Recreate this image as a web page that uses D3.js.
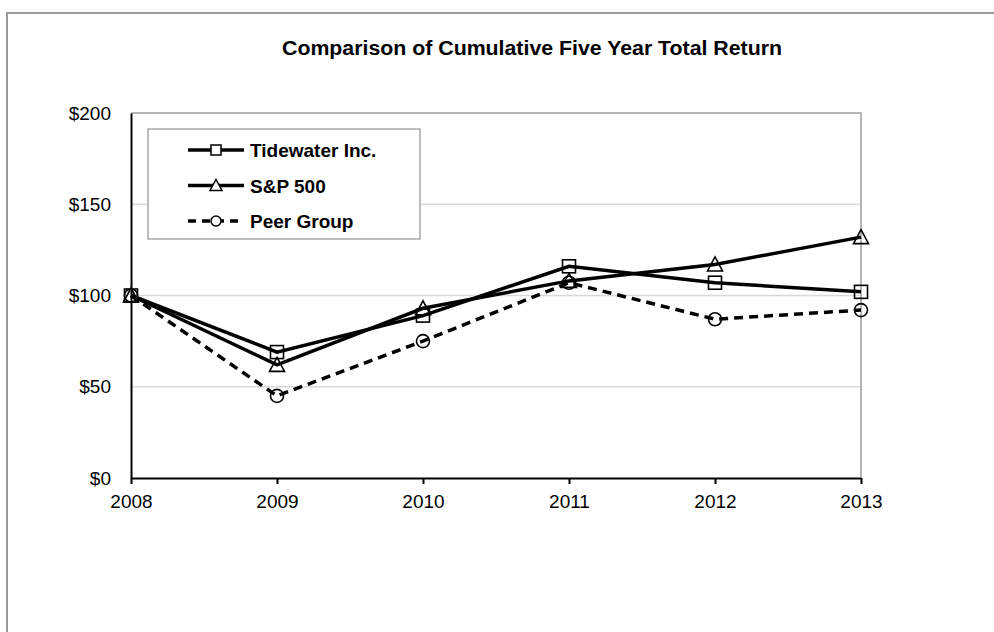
<!DOCTYPE html>
<html lang="en">
<head>
    <meta charset="UTF-8">
    <title>Comparison of Cumulative Five Year Total Return</title>
    <script src="https://d3js.org/d3.v7.min.js"></script>
    <style>
        body { margin: 0; background: #fff; }
        svg { display: block; font-family: "Liberation Sans", Arial, sans-serif; }
        .grid line { stroke: #d9d9d9; stroke-width: 1.5px; }
    </style>
</head>
<body>
<div id="chart"></div>
<script>
    // Chart data
    const years = [2008, 2009, 2010, 2011, 2012, 2013];
    const tidewater = [100, 69, 89, 116, 107, 102];
    const sp500 = [100, 62, 93, 108, 117, 132];
    const peerGroup = [100, 45, 75, 107, 87, 92];
    const yTicks = [0, 50, 100, 150, 200];

    const series = [
        { name: "Tidewater Inc.", values: tidewater, marker: "square", dash: null },
        { name: "S&P 500", values: sp500, marker: "triangle", dash: null },
        { name: "Peer Group", values: peerGroup, marker: "circle", dash: "9,6" }
    ];

    const width = 994, height = 632;
    const plot = { left: 131, right: 861, top: 113, bottom: 478 };

    const svg = d3.select("#chart").append("svg")
        .attr("width", width)
        .attr("height", height);

    // outer frame (top and left edges visible)
    svg.append("path")
        .attr("d", `M7,${height} V13 H${width}`)
        .attr("fill", "none")
        .attr("stroke", "#9a9a9a")
        .attr("stroke-width", 2);

    const x = d3.scalePoint().domain(years).range([plot.left, plot.right]);
    const y = d3.scaleLinear().domain([0, 200]).range([plot.bottom, plot.top]);

    // title
    svg.append("text")
        .attr("x", 532)
        .attr("y", 55)
        .attr("text-anchor", "middle")
        .attr("font-size", "20px")
        .attr("font-weight", "bold")
        .attr("textLength", 500)
        .attr("lengthAdjust", "spacingAndGlyphs")
        .text("Comparison of Cumulative Five Year Total Return");

    // gridlines
    svg.append("g").attr("class", "grid")
        .selectAll("line")
        .data(yTicks.filter(t => t > 0 && t < 200))
        .enter().append("line")
        .attr("x1", plot.left).attr("x2", plot.right)
        .attr("y1", d => y(d)).attr("y2", d => y(d));

    // plot area top and right border
    svg.append("path")
        .attr("d", `M${plot.left},${plot.top} H${plot.right} V${plot.bottom}`)
        .attr("fill", "none")
        .attr("stroke", "#b5b5b5")
        .attr("stroke-width", 2);

    // y axis
    const yAxis = svg.append("g")
        .attr("transform", `translate(${plot.left},0)`)
        .call(d3.axisLeft(y).tickValues(yTicks).tickFormat(d => "$" + d).tickSize(0).tickPadding(20));
    yAxis.select(".domain").attr("stroke", "#000").attr("stroke-width", 2);
    yAxis.selectAll("text")
        .attr("font-size", "19px")
        .attr("font-family", "Liberation Sans, Arial, sans-serif")
        .attr("fill", "#000");

    // x axis
    const xAxis = svg.append("g")
        .attr("transform", `translate(0,${plot.bottom})`)
        .call(d3.axisBottom(x).tickSize(6).tickPadding(11).tickFormat(d => d));
    xAxis.select(".domain").attr("stroke", "#000").attr("stroke-width", 2).attr("d", `M${plot.left},0.5H${plot.right}`);
    xAxis.selectAll(".tick line").attr("stroke", "#000").attr("stroke-width", 2);
    xAxis.selectAll("text")
        .attr("font-size", "19px")
        .attr("font-family", "Liberation Sans, Arial, sans-serif")
        .attr("fill", "#000");

    function drawMarker(g, type, cx, cy, s) {
        if (type === "square") {
            g.append("rect").attr("x", cx - s).attr("y", cy - s)
                .attr("width", 2 * s).attr("height", 2 * s);
        } else if (type === "triangle") {
            g.append("path").attr("d", `M${cx},${cy - s - 1}L${cx + s + 1},${cy + s}L${cx - s - 1},${cy + s}Z`);
        } else {
            g.append("circle").attr("cx", cx).attr("cy", cy).attr("r", s);
        }
    }

    const line = d3.line().x((d, i) => x(years[i])).y(d => y(d));

    series.forEach(s => {
        svg.append("path")
            .datum(s.values)
            .attr("d", line)
            .attr("fill", "none")
            .attr("stroke", "#000")
            .attr("stroke-width", 3.5)
            .attr("stroke-dasharray", s.dash);
        const mg = svg.append("g").attr("fill", "#fff").attr("fill-opacity", 0)
            .attr("stroke", "#000").attr("stroke-width", 1.6);
        s.values.forEach((v, i) => drawMarker(mg, s.marker, x(years[i]), y(v), 6.5));
    });

    // legend
    const legend = svg.append("g");
    legend.append("rect")
        .attr("x", 148).attr("y", 129)
        .attr("width", 272).attr("height", 110)
        .attr("fill", "#fff")
        .attr("stroke", "#a6a6a6")
        .attr("stroke-width", 1.5);

    series.forEach((s, i) => {
        const ly = 150 + i * 35.5;
        legend.append("line")
            .attr("x1", 188).attr("x2", 244)
            .attr("y1", ly).attr("y2", ly)
            .attr("stroke", "#000")
            .attr("stroke-width", 3.5)
            .attr("stroke-dasharray", s.dash ? "8,6" : null);
        const mg = legend.append("g").attr("fill", "#fff").attr("stroke", "#000").attr("stroke-width", 1.5);
        drawMarker(mg, s.marker, 216, ly, 5);
        legend.append("text")
            .attr("x", 250).attr("y", ly + 7)
            .attr("font-size", "19px")
            .attr("font-weight", "bold")
            .text(s.name);
    });
</script>
</body>
</html>
